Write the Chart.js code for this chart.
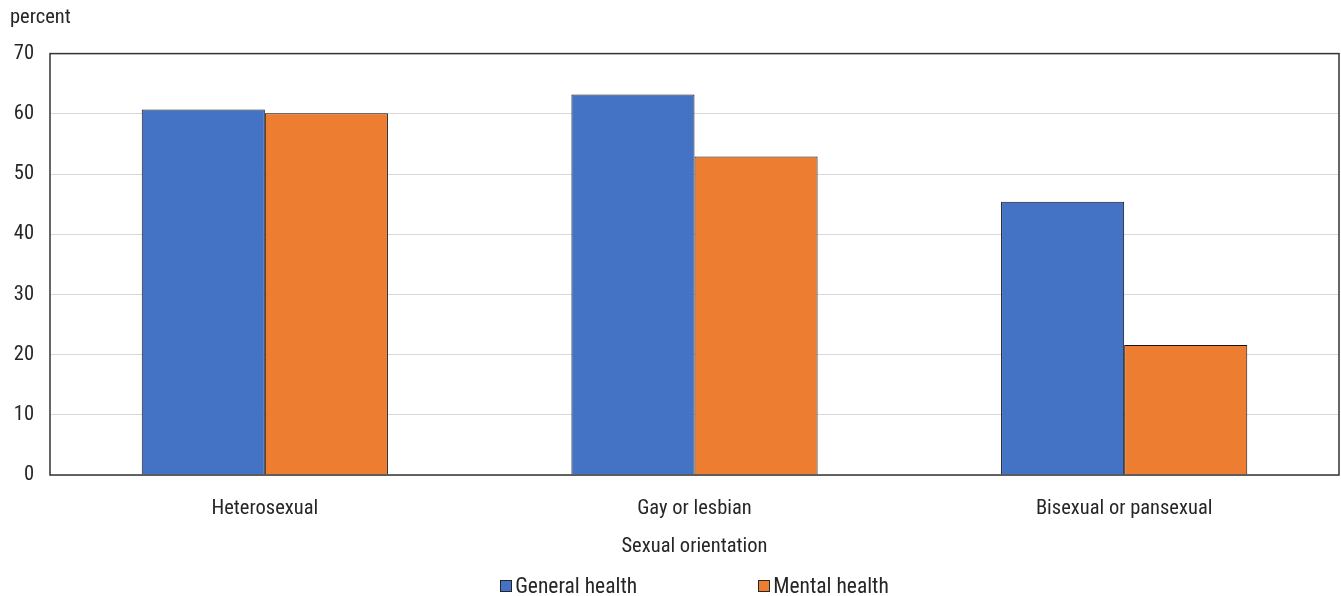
<!DOCTYPE html>
<html>
<head>
<meta charset="utf-8">
<script src="https://cdn.jsdelivr.net/npm/chart.js@4"></script>
<style>
html, body { margin: 0; padding: 0; background: #fff; }
#wrap { position: relative; width: 1341px; height: 596px; }
#legend {
    position: absolute; left: 50px; right: 2px; top: 573px;
    display: flex; justify-content: center; gap: 121px;
    font-family: 'Liberation Sans Narrow', 'Roboto Condensed', 'Liberation Sans', sans-serif;
    font-size: 21.5px; line-height: 26px; color: #262626;
}
#legend .item { display: flex; align-items: center; }
#legend .box { width: 10px; height: 10px; border: 1px solid #262626; margin-right: 3px; }
</style>
</head>
<body>
<div id="wrap">
<canvas id="myChart" width="1341" height="596"></canvas>
<div id="legend"></div>
</div>
<script>
var categories = ["Heterosexual", "Gay or lesbian", "Bisexual or pansexual"];
var generalHealth = [60.7, 63.2, 45.4];
var mentalHealth = [60.1, 52.9, 21.6];
var yMin = 0;
var yMax = 70;
var yStep = 10;

var fontFamily = "'Liberation Sans Narrow', 'Roboto Condensed', 'Liberation Sans', sans-serif";
var fontSize = 20.5;
Chart.defaults.font.family = fontFamily;
Chart.defaults.color = '#262626';

// frame around the plot area
var plotBorder = {
    id: 'plotBorder',
    afterDraw: function (chart) {
        var a = chart.chartArea;
        var ctx = chart.ctx;
        ctx.save();
        ctx.strokeStyle = '#333';
        ctx.lineWidth = 1.5;
        ctx.strokeRect(a.left, a.top, a.right - a.left, a.bottom - a.top);
        ctx.restore();
    }
};

var data = {
    labels: categories,
    datasets: [
        {
            label: 'General health',
            data: generalHealth,
            backgroundColor: '#4472C4',
            borderColor: '#141414',
            borderWidth: 1
        },
        {
            label: 'Mental health',
            data: mentalHealth,
            backgroundColor: '#ED7D31',
            borderColor: '#141414',
            borderWidth: 1
        }
    ]
};

var config = {
    type: 'bar',
    data: data,
    options: {
        responsive: false,
        animation: false,
        layout: {padding: {left: 10, right: 2, top: 0, bottom: 37}},
        datasets: {
            bar: {categoryPercentage: 0.573, barPercentage: 1}
        },
        scales: {
            x: {
                grid: {display: false},
                border: {display: false},
                ticks: {font: {size: fontSize}, padding: 14, color: '#262626'},
                title: {
                    display: true,
                    text: 'Sexual orientation',
                    font: {size: fontSize},
                    color: '#262626',
                    padding: {top: 0, bottom: 0}
                },
                afterFit: function (scale) { scale.height = 84; }
            },
            y: {
                min: yMin,
                max: yMax,
                ticks: {stepSize: yStep, font: {size: fontSize}, padding: 16, color: '#262626'},
                grid: {color: '#d9d9d9', drawTicks: false},
                border: {display: false},
                afterFit: function (scale) { scale.width = 40; }
            }
        },
        plugins: {
            title: {
                display: true,
                text: 'percent',
                align: 'start',
                font: {size: fontSize, weight: 'normal'},
                color: '#262626',
                padding: {top: 6, bottom: 23}
            },
            legend: {display: false},
            tooltip: {enabled: false}
        }
    },
    plugins: [plotBorder]
};

var myChart = new Chart(document.getElementById('myChart').getContext('2d'), config);

// legend as html below the chart
var legendBox = document.getElementById('legend');
data.datasets.forEach(function (ds) {
    var item = document.createElement('div');
    item.className = 'item';
    var box = document.createElement('span');
    box.className = 'box';
    box.style.background = ds.backgroundColor;
    var txt = document.createElement('span');
    txt.textContent = ds.label;
    item.appendChild(box);
    item.appendChild(txt);
    legendBox.appendChild(item);
});
</script>
</body>
</html>
